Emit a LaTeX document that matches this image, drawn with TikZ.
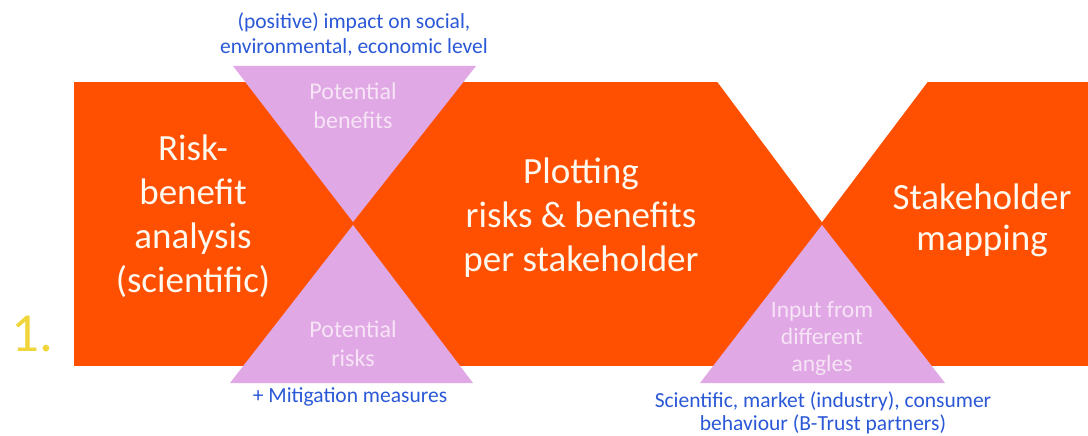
\documentclass[tikz,border=0pt]{standalone}
\usepackage{fontspec}
\setmainfont{Carlito}
\definecolor{band}{RGB}{254,80,0}
\definecolor{wedge}{RGB}{224,168,228}
\definecolor{wedgetxt}{RGB}{247,228,247}
\definecolor{noteblue}{RGB}{42,88,214}
\definecolor{stepno}{RGB}{240,214,58}
\definecolor{boxtxt}{RGB}{255,248,238}
\begin{document}
\begin{tikzpicture}[x=1pt,y=-1pt,
  bigtext/.style={text=boxtxt, align=center, inner sep=0pt, font=\fontsize{37}{44}\selectfont},
  wedgetext/.style={text=wedgetxt, align=center, inner sep=0pt, font=\fontsize{24}{29}\selectfont},
  note/.style={text=noteblue, align=center, inner sep=0pt, font=\fontsize{21.5}{25}\selectfont}]
\useasboundingbox (0,0) rectangle (1088,436);
% orange band with the open notch between the last two stages
\fill[band] (74,82) rectangle (1088,366);
\fill[white] (716,80) -- (929,80) -- (822,222) -- cycle;
% lilac wedges
\fill[wedge] (233,66) -- (476,66) -- (353,222) -- cycle;
\fill[wedge] (230,383) -- (473,383) -- (353,225) -- cycle;
\fill[wedge] (700,383) -- (945,383) -- (822,225) -- cycle;
% stage labels
\node[bigtext] (rba) at (193,216) {Risk-\\benefit\\analysis\\(scientific)};
\node[bigtext] (plot) at (581,218) {Plotting\\risks \& benefits\\per stakeholder};
\node[bigtext, font=\fontsize{37}{41}\selectfont] (map) at (982,220) {Stakeholder\\mapping};
% wedge labels
\node[wedgetext] (ben) at (353,106) {Potential\\benefits};
\node[wedgetext] (risk) at (353,344) {Potential\\risks};
\node[wedgetext, font=\fontsize{23.5}{27}\selectfont] (inp) at (822,338) {Input from\\different\\angles};
% notes
\node[note] (impact) at (354,35) {(positive) impact on social,\\environmental, economic level};
\node[note] (mitig) at (350,397) {+ Mitigation measures};
\node[note, font=\fontsize{21.5}{23}\selectfont] (angles) at (823,413) {Scientific, market (industry), consumer\\behaviour (B-Trust partners)};
% step number
\node[text=stepno, anchor=base west, inner sep=0pt, font=\fontsize{55}{60}\selectfont] (num) at (11,351) {1.};
\end{tikzpicture}
\end{document}
